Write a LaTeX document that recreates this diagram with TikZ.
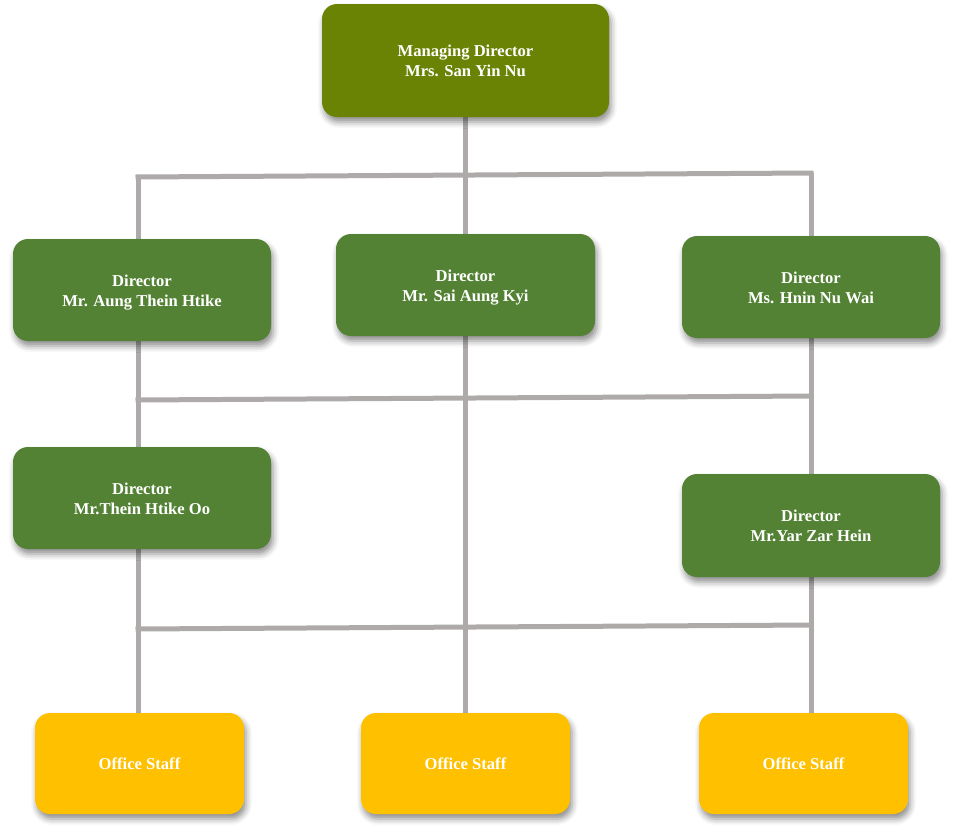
\documentclass[tikz,border=0pt]{standalone}
\usepackage{fontspec}
\setmainfont{Liberation Serif}
\usetikzlibrary{shadows.blur,backgrounds}
\definecolor{olivebox}{HTML}{6A8304}
\definecolor{greenbox}{HTML}{548235}
\definecolor{yellowbox}{HTML}{FFC000}
\definecolor{linegray}{HTML}{AEAAAA}
\begin{document}
\begin{tikzpicture}[x=1pt,y=-1pt,
  box/.style={rounded corners=15pt, draw=none, text=white, align=center,
    font=\fontsize{16.6}{20}\selectfont\bfseries, inner sep=0pt,
    text height=32pt, text depth=0pt,
    blur shadow={shadow xshift=2pt, shadow yshift=-5pt, shadow blur radius=6pt, shadow opacity=45}},
  mdbox/.style={box, fill=olivebox, minimum width=287pt, minimum height=113pt},
  dirbox/.style={box, fill=greenbox, minimum width=258pt, minimum height=102pt},
  staffbox/.style={box, fill=yellowbox, minimum width=209pt, minimum height=101pt, text height=12pt},
  link/.style={draw=linegray, line width=5pt}]
\useasboundingbox (0,0) rectangle (953,833);
\node[mdbox] (md) at (465.5,60.5) {Managing Director\\Mrs. San Yin Nu};
\node[dirbox] (d1) at (142,290) {Director\\Mr. Aung Thein Htike};
\node[dirbox, minimum width=259pt] (d2) at (465.5,285) {Director\\Mr. Sai Aung Kyi};
\node[dirbox] (d3) at (811,287) {Director\\Ms. Hnin Nu Wai};
\node[dirbox] (d4) at (142,498) {Director\\Mr.Thein Htike Oo};
\node[dirbox, minimum height=103pt] (d5) at (811,525.5) {Director\\Mr.Yar Zar Hein};
\node[staffbox] (s1) at (139.5,763.5) {Office Staff};
\node[staffbox] (s2) at (465.5,763.5) {Office Staff};
\node[staffbox] (s3) at (803.5,763.5) {Office Staff};
\coordinate (h1l) at (138,177);
\coordinate (h1r) at (811,173);
\coordinate (h2l) at (138,400);
\coordinate (h2r) at (811,396);
\coordinate (h3l) at (138,629);
\coordinate (h3r) at (811,625);
\begin{scope}[on background layer]
\draw[link] (md.south) -- (d2.north);
\draw[link] ([xshift=-2.5pt]h1l) -- ([xshift=2.5pt]h1r);
\draw[link] (h1l) -- (h1l |- d1.north);
\draw[link] (h1r) -- (h1r |- d3.north);
\draw[link] ([xshift=-2.5pt]h2l) -- ([xshift=2.5pt]h2r);
\draw[link] (h2l |- d1.south) -- (h2l |- d4.north);
\draw[link] (d2.south) -- (s2.north);
\draw[link] (h2r |- d3.south) -- (h2r |- d5.north);
\draw[link] ([xshift=-2.5pt]h3l) -- ([xshift=2.5pt]h3r);
\draw[link] (h3l |- d4.south) -- (h3l |- s1.north);
\draw[link] (h3r |- d5.south) -- (h3r |- s3.north);
\end{scope}
\end{tikzpicture}
\end{document}
